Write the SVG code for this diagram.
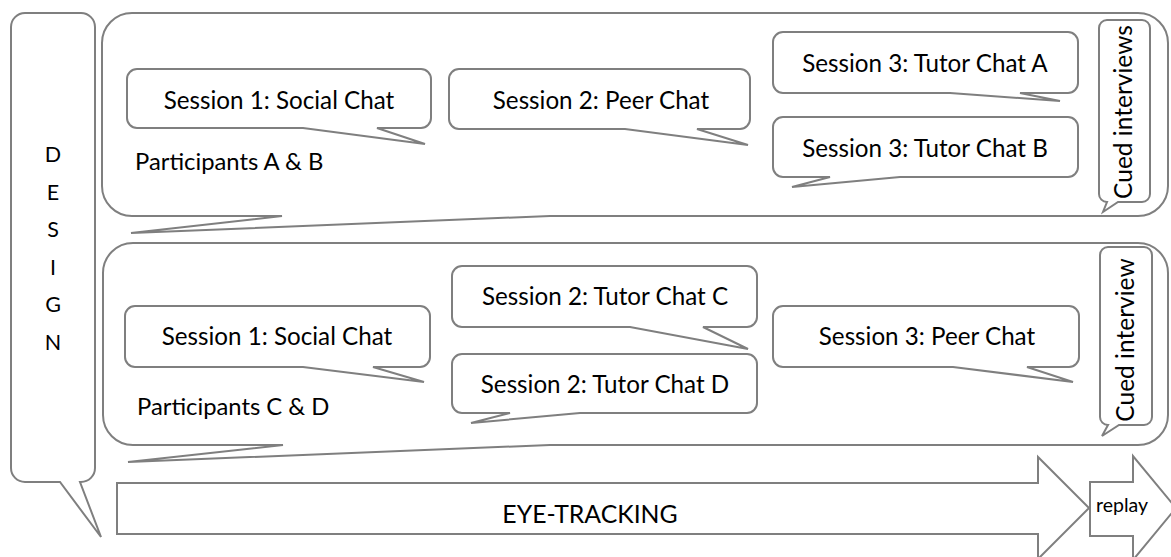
<svg xmlns="http://www.w3.org/2000/svg" width="1171" height="557" viewBox="0 0 1171 557">
<style>
.s{fill:#fff;stroke:#7f7f7f;stroke-width:2;stroke-linejoin:miter}
.t{font-family:Lato,"Liberation Sans",sans-serif;fill:#000;font-size:24.2px}
.m{text-anchor:middle}
</style>
<rect width="1171" height="557" fill="#fff"/>
<g id="design">
<path class="s" d="M25,13 H81 A14,14 0 0 1 95,27 V468 A14,14 0 0 1 81,482 H80 L101,537 L60,482 H25 A14,14 0 0 1 11,468 V27 A14,14 0 0 1 25,13 Z"/>
<g class="t m" style="font-size:21.5px">
<text x="53" y="162">D</text><text x="53" y="200">E</text><text x="53" y="237">S</text><text x="53" y="275">I</text><text x="53" y="312">G</text><text x="53" y="350">N</text>
</g>
</g>
<g id="groupAB">
<path class="s" d="M132,13 H1138 A30,30 0 0 1 1168,43 V186 A30,30 0 0 1 1138,216 H550 L131,233 L282,216 H132 A30,30 0 0 1 102,186 V43 A30,30 0 0 1 132,13 Z"/>
<text class="t" style="font-size:23.8px" x="135" y="170">Participants A &amp; B</text>
</g>
<g id="groupCD">
<path class="s" d="M133,243 H1138 A30,30 0 0 1 1168,273 V415 A30,30 0 0 1 1138,445 H550 L128,462 L283,445 H133 A30,30 0 0 1 103,415 V273 A30,30 0 0 1 133,243 Z"/>
<text class="t" style="font-size:23.8px" x="137" y="415">Participants C &amp; D</text>
</g>
<g id="ab-s1">
<path class="s" d="M137,69 H421 A10,10 0 0 1 431,79 V118 A10,10 0 0 1 421,128 H377 L425,144 L303,128 H137 A10,10 0 0 1 127,118 V79 A10,10 0 0 1 137,69 Z"/>
<text class="t m" x="279" y="109">Session 1: Social Chat</text>
</g>
<g id="ab-s2">
<path class="s" d="M459,69 H740 A10,10 0 0 1 750,79 V119 A10,10 0 0 1 740,129 H697 L748,145 L625,129 H459 A10,10 0 0 1 449,119 V79 A10,10 0 0 1 459,69 Z"/>
<text class="t m" x="601" y="109">Session 2: Peer Chat</text>
</g>
<g id="ab-s3a">
<path class="s" d="M783,32 H1068 A10,10 0 0 1 1078,42 V83 A10,10 0 0 1 1068,93 H1020 L1060,101 L950,93 H783 A10,10 0 0 1 773,83 V42 A10,10 0 0 1 783,32 Z"/>
<text class="t m" x="925" y="72">Session 3: Tutor Chat A</text>
</g>
<g id="ab-s3b">
<path class="s" d="M783,117 H1068 A10,10 0 0 1 1078,127 V167 A10,10 0 0 1 1068,177 H900 L792,187 L830,177 H783 A10,10 0 0 1 773,167 V127 A10,10 0 0 1 783,117 Z"/>
<text class="t m" x="925" y="157">Session 3: Tutor Chat B</text>
</g>
<g id="ab-cued">
<path class="s" d="M1107,20 H1142 A8,8 0 0 1 1150,28 V194 A8,8 0 0 1 1142,202 H1118 L1103,212 L1107,202 A8,8 0 0 1 1099,194 V28 A8,8 0 0 1 1107,20 Z"/>
<text class="t m" style="font-size:24.5px" transform="translate(1132,112) rotate(-90)" x="0" y="0">Cued interviews</text>
</g>
<g id="cd-s1">
<path class="s" d="M135,306 H420 A10,10 0 0 1 430,316 V357 A10,10 0 0 1 420,367 H373 L424,382 L303,367 H135 A10,10 0 0 1 125,357 V316 A10,10 0 0 1 135,306 Z"/>
<text class="t m" x="277" y="345">Session 1: Social Chat</text>
</g>
<g id="cd-s2c">
<path class="s" d="M462,266 H747 A10,10 0 0 1 757,276 V317 A10,10 0 0 1 747,327 H703 L748,349 L630,327 H462 A10,10 0 0 1 452,317 V276 A10,10 0 0 1 462,266 Z"/>
<text class="t m" x="605" y="305">Session 2: Tutor Chat C</text>
</g>
<g id="cd-s2d">
<path class="s" d="M462,354 H747 A10,10 0 0 1 757,364 V403 A10,10 0 0 1 747,413 H580 L471,423 L510,413 H462 A10,10 0 0 1 452,403 V364 A10,10 0 0 1 462,354 Z"/>
<text class="t m" x="605" y="393">Session 2: Tutor Chat D</text>
</g>
<g id="cd-s3">
<path class="s" d="M783,306 H1069 A10,10 0 0 1 1079,316 V357 A10,10 0 0 1 1069,367 H1027 L1073,382 L953,367 H783 A10,10 0 0 1 773,357 V316 A10,10 0 0 1 783,306 Z"/>
<text class="t m" x="927" y="345">Session 3: Peer Chat</text>
</g>
<g id="cd-cued">
<path class="s" d="M1108,247 H1144 A8,8 0 0 1 1152,255 V417 A8,8 0 0 1 1144,425 H1119 L1102,436 L1108,425 A8,8 0 0 1 1100,417 V255 A8,8 0 0 1 1108,247 Z"/>
<text class="t m" style="font-size:24.5px" transform="translate(1134,340) rotate(-90)" x="0" y="0">Cued interview</text>
</g>
<g id="eyetracking">
<path class="s" d="M117,483 H1038 V457 L1089,508 L1038,559 V534 H117 Z"/>
<text class="t m" style="font-size:24.8px" x="590" y="523">EYE-TRACKING</text>
</g>
<g id="replay">
<path class="s" d="M1090,482 H1133 V456 L1176,508 L1133,560 V536 H1090 Z"/>
<text class="t" style="font-size:19.5px" x="1096" y="512">replay</text>
</g>
<g id="connectors"></g>
</svg>
